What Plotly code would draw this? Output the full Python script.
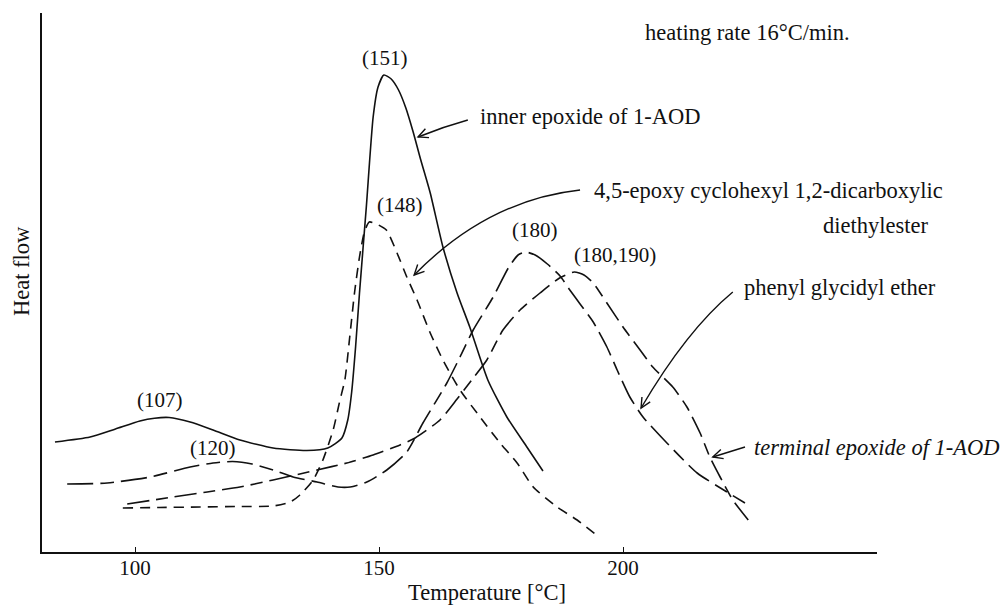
import math
import plotly.graph_objects as go

# DSC heating traces: temperature (°C) vs heat flow (arbitrary units)
inner_T = [83.6, 90.8, 96.0, 101.0, 104.0, 107.0, 111.3, 116.0, 121.5, 128.3, 135.2, 139.5,
           142.4, 143.6, 144.4, 145.2, 146.0, 147.4, 148.8, 149.8, 151.0, 152.5, 154.0, 155.5,
           157.0, 158.5, 160.5, 163.1, 166.0, 168.6, 172.3, 176.2, 180.3, 183.6]
inner_H = [11.0, 11.5, 12.3, 13.1, 13.38, 13.45, 13.0, 12.2, 11.2, 10.4, 10.15, 10.4,
           11.4, 13.2, 16.0, 20.5, 25.9, 34.5, 43.5, 46.5, 47.7, 47.3, 46.2, 44.4,
           42.0, 39.3, 35.9, 30.5, 25.9, 22.5, 17.2, 13.5, 10.5, 8.1]

cyclo_T = [97.5, 105.0, 113.3, 121.0, 128.3, 131.8, 133.8, 136.5, 138.5, 140.6, 142.0, 143.0,
           144.0, 145.0, 146.0, 147.0, 148.0, 149.5, 151.5, 153.7, 155.7, 157.8, 160.5, 163.1,
           166.6, 170.7, 174.8, 178.3, 181.6, 186.5, 190.6, 194.3]
cyclo_H = [4.4, 4.45, 4.5, 4.55, 4.6, 5.0, 5.7, 7.2, 9.2, 12.2, 15.2, 17.2,
           21.5, 26.0, 29.5, 32.0, 33.0, 32.8, 32.2, 29.9, 27.5, 25.2, 21.9, 19.2,
           16.2, 13.5, 10.9, 8.9, 6.5, 4.5, 3.2, 1.8]

phenyl_T = [86.1, 94.3, 103.1, 111.3, 116.0, 120.0, 124.0, 128.3, 132.4, 137.3, 141.6, 144.1,
            147.5, 151.6, 155.7, 159.0, 163.9, 166.6, 169.3, 173.4, 176.5, 178.5, 180.0, 182.0,
            184.5, 187.1, 189.1, 191.2, 193.9, 196.7, 198.8, 201.4, 204.1, 209.0, 215.2, 221.3, 225.0]
phenyl_H = [6.8, 6.9, 7.5, 8.5, 8.9, 9.05, 8.8, 8.2, 7.5, 7.0, 6.5, 6.5,
            7.0, 8.2, 10.0, 12.9, 16.9, 19.5, 22.2, 25.5, 28.4, 29.7, 30.0, 29.7,
            28.8, 27.6, 26.2, 24.8, 23.0, 20.5, 18.2, 15.5, 13.5, 10.9, 7.9, 6.0, 4.9]

terminal_T = [98.4, 107.8, 114.8, 121.5, 128.3, 137.3, 143.4, 148.8, 154.3, 157.4, 162.5, 166.0,
              169.0, 172.1, 175.4, 178.9, 183.0, 187.0, 190.0, 192.0, 193.9, 196.7, 200.0, 203.5,
              206.1, 210.2, 213.1, 215.8, 217.8, 219.9, 222.5, 226.0]
terminal_H = [4.8, 5.5, 6.0, 6.5, 7.2, 8.2, 8.9, 9.7, 10.7, 11.4, 13.2, 15.3,
              17.2, 19.2, 22.2, 24.2, 25.9, 27.4, 28.0, 27.7, 26.9, 24.9, 22.5, 20.2,
              18.5, 16.5, 14.5, 11.9, 9.5, 7.5, 5.2, 3.0]

x_ticks = [100, 150, 200]

# Peak temperature labels: (text, temperature, heat flow)
peak_labels = [
    ("(107)", 105.1, 15.2),
    ("(151)", 151.2, 49.4),
    ("(148)", 154.3, 34.7),
    ("(120)", 116.0, 10.4),
    ("(180)", 182.0, 32.2),
    ("(180,190)", 198.4, 29.7),
]

# Figure geometry
WIDTH, HEIGHT = 1005, 607
M_L, M_R, M_T, M_B = 42, 128, 13, 55
PLOT_W = WIDTH - M_L - M_R
PLOT_H = HEIGHT - M_T - M_B
X_RANGE = [80.94, 252.05]
Y_RANGE = [0.0, 53.9]

INK = "#111111"
SERIF = "Liberation Serif, Times New Roman, serif"


def to_px(t, h):
    return (M_L + (t - X_RANGE[0]) / (X_RANGE[1] - X_RANGE[0]) * PLOT_W,
            M_T + (Y_RANGE[1] - h) / (Y_RANGE[1] - Y_RANGE[0]) * PLOT_H)


def to_data(px, py):
    return (X_RANGE[0] + (px - M_L) / PLOT_W * (X_RANGE[1] - X_RANGE[0]),
            Y_RANGE[1] - (py - M_T) / PLOT_H * (Y_RANGE[1] - Y_RANGE[0]))


def leader(tail, ctrl, tip, head=11.0, spread=0.45):
    """Curved leader line ending in an open V arrowhead (data coordinates)."""
    body = dict(type="path", xref="x", yref="y",
                path=f"M {tail[0]},{tail[1]} Q {ctrl[0]},{ctrl[1]} {tip[0]},{tip[1]}",
                line=dict(color=INK, width=1.4))
    cx, cy = to_px(*ctrl)
    px, py = to_px(*tip)
    ang = math.atan2(py - cy, px - cx)
    pts = []
    for s in (spread, -spread):
        a = ang + math.pi + s
        pts.append(to_data(px + head * math.cos(a), py + head * math.sin(a)))
    tip_path = (f"M {pts[0][0]},{pts[0][1]} L {tip[0]},{tip[1]} "
                f"L {pts[1][0]},{pts[1][1]}")
    tip_shape = dict(type="path", xref="x", yref="y", path=tip_path,
                     line=dict(color=INK, width=1.4))
    return [body, tip_shape]


fig = go.Figure()

traces = [
    ("inner epoxide of 1-AOD", inner_T, inner_H, "solid"),
    ("4,5-epoxy cyclohexyl 1,2-dicarboxylic diethylester", cyclo_T, cyclo_H, "10px,7px"),
    ("phenyl glycidyl ether", phenyl_T, phenyl_H, "26px,7px,14px,7px"),
    ("terminal epoxide of 1-AOD", terminal_T, terminal_H, "22px,7px,12px,7px"),
]
for name, t, h, dash in traces:
    fig.add_trace(go.Scatter(
        x=t, y=h, mode="lines", name=name, showlegend=False,
        line=dict(color=INK, width=1.6, dash=dash, shape="spline", smoothing=0.6),
    ))

shapes = []
shapes += leader((168.2, 43.2), (163.0, 42.5), (158.0, 41.5))
shapes += leader((191.2, 36.2), (172.3, 35.2), (157.2, 27.7))
shapes += leader((222.5, 26.0), (213.1, 22.2), (203.7, 14.4))
shapes += leader((225.0, 10.5), (221.7, 10.0), (218.4, 9.5))

num_font = dict(family=SERIF, size=21, color=INK)
text_font = dict(family=SERIF, size=22.5, color=INK)

annotations = []
for text, t, h in peak_labels:
    annotations.append(dict(x=t, y=h, xref="x", yref="y", text=text, showarrow=False,
                            font=num_font, xanchor="center", yanchor="middle"))

notes = [
    ("heating rate 16°C/min.", 204.1, 52.0, "left"),
    ("inner epoxide of 1-AOD", 170.3, 43.6, "left"),
    ("4,5-epoxy cyclohexyl 1,2-dicarboxylic", 193.6, 36.2, "left"),
    ("phenyl glycidyl ether", 224.4, 26.5, "left"),
    ("<i>terminal epoxide of 1-AOD</i>", 226.4, 10.5, "left"),
]
for text, t, h, anchor in notes:
    annotations.append(dict(x=t, y=h, xref="x", yref="y", text=text, showarrow=False,
                            font=text_font, xanchor=anchor, yanchor="middle"))

# Second line of the cyclohexyl label sits right of the plotting area
annotations.append(dict(x=(930 - M_L) / PLOT_W, y=32.7, xref="paper", yref="y",
                        text="diethylester", showarrow=False, font=text_font,
                        xanchor="right", yanchor="middle"))

# Axis titles
annotations.append(dict(x=(487 - M_L) / PLOT_W, y=-(592 - (M_T + PLOT_H)) / PLOT_H,
                        xref="paper", yref="paper", text="Temperature [°C]",
                        showarrow=False, font=text_font, xanchor="center", yanchor="middle"))
annotations.append(dict(x=(21 - M_L) / PLOT_W, y=(M_T + PLOT_H - 271) / PLOT_H,
                        xref="paper", yref="paper", text="Heat flow", textangle=-90,
                        showarrow=False, font=text_font, xanchor="center", yanchor="middle"))

fig.update_layout(
    width=WIDTH, height=HEIGHT,
    margin=dict(l=M_L, r=M_R, t=M_T, b=M_B),
    paper_bgcolor="white", plot_bgcolor="white",
    shapes=shapes, annotations=annotations,
    xaxis=dict(range=X_RANGE, showline=True, linecolor=INK, linewidth=1.5,
               ticks="inside", ticklen=5, tickwidth=1.3, tickcolor=INK,
               tickvals=x_ticks, ticktext=[str(v) for v in x_ticks],
               tickfont=num_font, ticklabelstandoff=-4,
               showgrid=False, zeroline=False),
    yaxis=dict(range=Y_RANGE, showline=True, linecolor=INK, linewidth=1.5,
               ticks="", showticklabels=False, showgrid=False, zeroline=False),
)

fig.write_html("out.html")
